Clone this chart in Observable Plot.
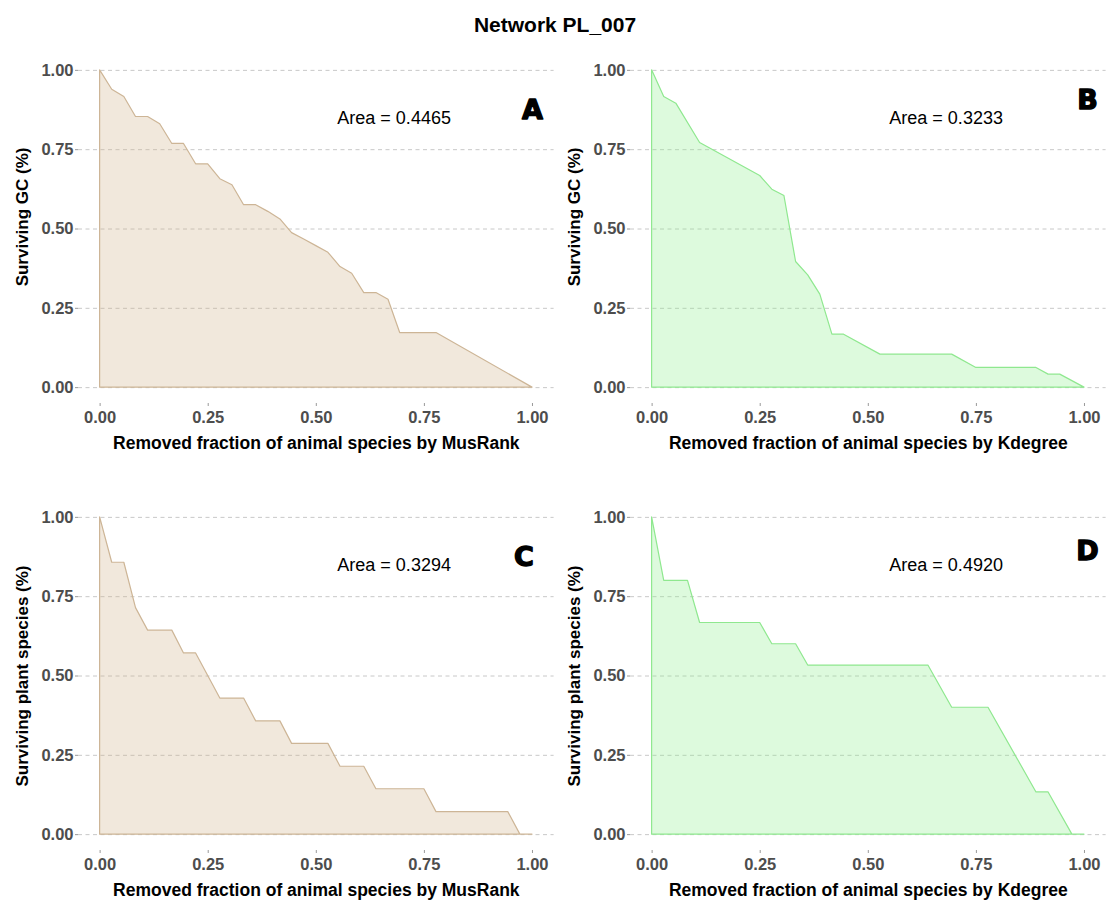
<!DOCTYPE html>
<html>
<head>
<meta charset="utf-8">
<script src="https://cdn.jsdelivr.net/npm/d3@7"></script>
<script src="https://cdn.jsdelivr.net/npm/@observablehq/plot@0.6"></script>
<style>
  html, body { margin: 0; padding: 0; background: #fff; }
  #wrap { position: relative; width: 1110px; height: 915px; font-family: "Liberation Sans", Arial, sans-serif; }
  #title { position: absolute; left: 0; width: 1110px; top: 13px; text-align: center; font-weight: bold; font-size: 21px; color: #000; }
  .panel { position: absolute; overflow: visible; }
</style>
</head>
<body>
<div id="wrap">
  <div id="title">Network PL_007</div>
</div>
<script>
// ---- Data ----
const tickValues = [0, 0.25, 0.5, 0.75, 1];

// Panel A: MusRank, surviving GC
const aX = [0, 0.028, 0.056, 0.083, 0.111, 0.139, 0.167, 0.194, 0.222, 0.250, 0.278, 0.306, 0.333, 0.361, 0.389, 0.417, 0.444, 0.472, 0.500, 0.528, 0.556, 0.583, 0.611, 0.639, 0.667, 0.694, 0.778, 1.000];
const aY = [1.000, 0.939, 0.916, 0.853, 0.853, 0.830, 0.768, 0.768, 0.704, 0.704, 0.657, 0.638, 0.575, 0.575, 0.554, 0.530, 0.487, 0.467, 0.446, 0.425, 0.380, 0.359, 0.298, 0.298, 0.277, 0.172, 0.172, 0];

// Panel B: Kdegree, surviving GC
const bX = [0, 0.028, 0.056, 0.111, 0.250, 0.278, 0.306, 0.333, 0.361, 0.389, 0.417, 0.444, 0.528, 0.694, 0.750, 0.889, 0.917, 0.944, 1.000];
const bY = [1, 0.916, 0.895, 0.771, 0.667, 0.624, 0.604, 0.396, 0.354, 0.293, 0.167, 0.167, 0.104, 0.104, 0.062, 0.062, 0.041, 0.041, 0];

// Panel C: MusRank, surviving plant species
const cX = [0, 0.028, 0.056, 0.083, 0.111, 0.167, 0.194, 0.222, 0.278, 0.333, 0.361, 0.417, 0.444, 0.528, 0.556, 0.611, 0.639, 0.750, 0.778, 0.944, 0.972, 1.000];
const cY = [1, 0.857, 0.857, 0.714, 0.643, 0.643, 0.571, 0.571, 0.429, 0.429, 0.357, 0.357, 0.286, 0.286, 0.214, 0.214, 0.143, 0.143, 0.071, 0.071, 0, 0];

// Panel D: Kdegree, surviving plant species
const dX = [0, 0.028, 0.083, 0.111, 0.250, 0.278, 0.333, 0.361, 0.639, 0.694, 0.778, 0.889, 0.917, 0.972, 1.000];
const dY = [1, 0.8, 0.8, 0.667, 0.667, 0.6, 0.6, 0.533, 0.533, 0.4, 0.4, 0.133, 0.133, 0, 0];

const areaLabels = ["Area = 0.4465", "Area = 0.3233", "Area = 0.3294", "Area = 0.4920"];
const panelLetters = ["A", "B", "C", "D"];
const letterPos = [[1.0, 0.874], [1.007, 0.905], [0.98, 0.873], [1.007, 0.893]];
const xLabels = ["Removed fraction of animal species by MusRank", "Removed fraction of animal species by Kdegree",
                 "Removed fraction of animal species by MusRank", "Removed fraction of animal species by Kdegree"];
const yLabels = ["Surviving GC (%)", "Surviving GC (%)", "Surviving plant species (%)", "Surviving plant species (%)"];
const yLabelCenter = [0.538, 0.538, 0.5, 0.5];
const fills = ["tan", "lightgreen", "tan", "lightgreen"];
const strokes = ["#cdb596", "#8fe88f", "#cdb596", "#8fe88f"];

const panels = [
  {xs: aX, ys: aY, left: 0, top: 45},
  {xs: bX, ys: bY, left: 552, top: 45},
  {xs: cX, ys: cY, left: 0, top: 492},
  {xs: dX, ys: dY, left: 552, top: 492}
];

const fmt = d3.format(".2f");
const wrap = document.getElementById("wrap");

panels.forEach((p, i) => {
  const data = p.xs.map((x, j) => ({x, y: p.ys[j]}));
  const chart = Plot.plot({
    width: 555,
    height: 420,
    marginLeft: 78,
    marginRight: 1.4,
    marginTop: 9,
    marginBottom: 62,
    style: {fontFamily: "'Liberation Sans', Arial, sans-serif", background: "transparent", overflow: "visible"},
    x: {domain: [-0.05, 1.05]},
    y: {domain: [-0.05, 1.05]},
    marks: [
      Plot.ruleY(tickValues, {stroke: "#c8c8c8", strokeDasharray: "4,3.5", strokeWidth: 1}),
      Plot.areaY(data, {x: "x", y: "y", fill: fills[i], fillOpacity: 0.3, stroke: strokes[i], strokeWidth: 1.2}),
      Plot.axisX(tickValues, {tickFormat: fmt, tickSize: 3, tickPadding: 5, fontSize: 16.5, fontWeight: "bold",
        fill: "#4d4d4d", stroke: "#9a9a9a", label: null}),
      Plot.axisY(tickValues, {tickFormat: fmt, tickSize: 3, tickPadding: 2, fontSize: 16.5, fontWeight: "bold",
        fill: "#4d4d4d", stroke: "#9a9a9a", label: null}),
      Plot.text([xLabels[i]], {frameAnchor: "bottom", lineAnchor: "middle", textAnchor: "middle", dy: 40,
        fontSize: 17.5, fontWeight: "bold", fill: "#000"}),
      Plot.text([yLabels[i]], {x: () => -0.05, y: () => yLabelCenter[i], lineAnchor: "middle", textAnchor: "middle",
        dx: -56, rotate: -90, fontSize: 17, fontWeight: "bold", fill: "#000"}),
      Plot.text([areaLabels[i]], {x: () => 0.68, y: () => 0.85, fontSize: 18, fill: "#000"}),
      Plot.text([panelLetters[i]], {x: () => letterPos[i][0], y: () => letterPos[i][1], fontSize: 27,
        fontWeight: "bold", fontFamily: "DejaVu Sans", fill: "#000", stroke: "#000", strokeWidth: 1.4})
    ]
  });
  chart.classList.add("panel");
  chart.style.left = p.left + "px";
  chart.style.top = p.top + "px";
  wrap.appendChild(chart);
});
</script>
</body>
</html>
